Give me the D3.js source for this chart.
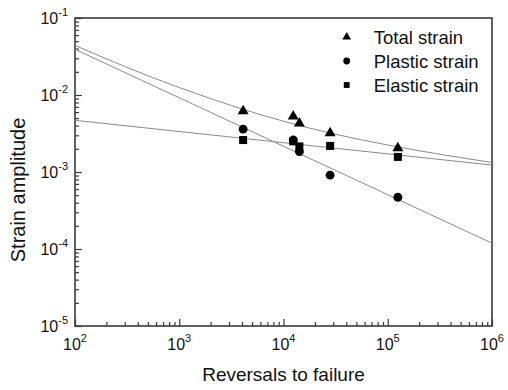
<!DOCTYPE html>
<html>
<head>
<meta charset="utf-8">
<script src="https://cdn.jsdelivr.net/npm/d3@7"></script>
<style>
  body { margin: 0; background: #fff; }
  svg { font-family: "Liberation Sans", Arial, sans-serif; }
</style>
</head>
<body>
<div id="chart"></div>
<script>
// measured points (reversals, strain amplitude)
const reversals = [4100, 12400, 14200, 28000, 125000];
const totalStrain = [0.0062, 0.0053, 0.0043, 0.0032, 0.00205];
const plasticStrain = [0.0036, 0.0026, 0.00184, 0.00091, 0.00047];
const elasticStrain = [0.0026, 0.0025, 0.00215, 0.00218, 0.00157];

// fitted lines
const elasticFitN = [100, 1e6];
const elasticFitS = [0.00469, 0.00123];
const plasticFitN = [100, 1e6];
const plasticFitS = [0.0392, 0.000119];
const totalFitN = [100, 316, 1000, 3162, 10000, 31623, 100000, 316228, 1e6];
const totalFitS = [0.0441, 0.0228, 0.0125, 0.0073, 0.00456, 0.00309, 0.00224, 0.0017, 0.00133];

const xTickExps = [2, 3, 4, 5, 6];
const yTickExps = [-5, -4, -3, -2, -1];
const legendLabels = ["Total strain", "Plastic strain", "Elastic strain"];

// set the dimensions and margins of the graph
const margin = {top: 18, right: 16, bottom: 64, left: 75},
    width = 508 - margin.left - margin.right,
    height = 390 - margin.top - margin.bottom;

const svg = d3.select("#chart")
    .append("svg")
        .attr("width", 508)
        .attr("height", 390)
    .append("g")
        .attr("transform", `translate(${margin.left}, ${margin.top})`);

const x = d3.scaleLog().domain([1e2, 1e6]).range([0, width]);
const y = d3.scaleLog().domain([1e-5, 1e-1]).range([height, 0]);

// minor tick values
const xMinor = [], yMinor = [];
for (let e = 2; e < 6; e++) for (let m = 2; m < 10; m++) xMinor.push(m * Math.pow(10, e));
for (let e = -5; e < -1; e++) for (let m = 2; m < 10; m++) yMinor.push(m * Math.pow(10, e));

const axisColor = "#3a3a3a";

function styleAxis(g) {
    g.select(".domain").remove();
    g.selectAll(".tick line").attr("stroke", axisColor).attr("stroke-width", 1.2);
}

// x axis ticks (inward)
svg.append("g")
    .attr("transform", `translate(0, ${height})`)
    .call(d3.axisBottom(x).tickValues(xMinor).tickSize(-4).tickFormat(""))
    .call(styleAxis);
svg.append("g")
    .attr("transform", `translate(0, ${height})`)
    .call(d3.axisBottom(x).tickValues(xTickExps.map(e => Math.pow(10, e))).tickSize(-7).tickFormat(""))
    .call(styleAxis);

// y axis ticks (inward)
svg.append("g")
    .call(d3.axisLeft(y).tickValues(yMinor).tickSize(-4).tickFormat(""))
    .call(styleAxis);
svg.append("g")
    .call(d3.axisLeft(y).tickValues(yTickExps.map(e => Math.pow(10, e))).tickSize(-7).tickFormat(""))
    .call(styleAxis);

// frame
svg.append("rect")
    .attr("width", width)
    .attr("height", height)
    .attr("fill", "none")
    .attr("stroke", axisColor)
    .attr("stroke-width", 1.6);

// tick labels as 10^n
function powLabel(sel, exp) {
    sel.append("tspan").text("10");
    sel.append("tspan")
        .attr("font-size", 11)
        .attr("dy", -8)
        .text(exp);
}

xTickExps.forEach(e => {
    svg.append("text")
        .attr("x", x(Math.pow(10, e)))
        .attr("y", height + 24)
        .attr("text-anchor", "middle")
        .attr("font-size", 16)
        .attr("fill", "#111")
        .call(powLabel, e);
});

yTickExps.forEach(e => {
    svg.append("text")
        .attr("x", -7)
        .attr("y", y(Math.pow(10, e)) + 6)
        .attr("text-anchor", "end")
        .attr("font-size", 16)
        .attr("fill", "#111")
        .call(powLabel, e);
});

// axis titles
svg.append("text")
    .attr("x", width / 2)
    .attr("y", height + 55)
    .attr("text-anchor", "middle")
    .attr("font-size", 19)
    .attr("fill", "#111")
    .text("Reversals to failure");

svg.append("text")
    .attr("transform", "rotate(-90)")
    .attr("x", -(190 - margin.top))
    .attr("y", -margin.left + 25)
    .attr("text-anchor", "middle")
    .attr("font-size", 20)
    .attr("fill", "#111")
    .text("Strain amplitude");

// fit lines
const line = d3.line()
    .x(d => x(d[0]))
    .y(d => y(d[1]));

const fits = [
    d3.zip(elasticFitN, elasticFitS),
    d3.zip(plasticFitN, plasticFitS)
];
fits.forEach(f => {
    svg.append("path")
        .datum(f)
        .attr("fill", "none")
        .attr("stroke", "#8a8a8a")
        .attr("stroke-width", 1)
        .attr("d", line);
});
svg.append("path")
    .datum(d3.zip(totalFitN, totalFitS))
    .attr("fill", "none")
    .attr("stroke", "#8a8a8a")
    .attr("stroke-width", 1)
    .attr("d", line.curve(d3.curveNatural));

// markers
const triangle = d3.symbol().type(d3.symbolTriangle);
const circle = d3.symbol().type(d3.symbolCircle);
const square = d3.symbol().type(d3.symbolSquare);

svg.append("g").selectAll("path")
    .data(d3.zip(reversals, totalStrain))
    .enter().append("path")
    .attr("d", triangle.size(52))
    .attr("transform", d => `translate(${x(d[0])}, ${y(d[1])})`)
    .attr("fill", "#000");

svg.append("g").selectAll("path")
    .data(d3.zip(reversals, plasticStrain))
    .enter().append("path")
    .attr("d", circle.size(62))
    .attr("transform", d => `translate(${x(d[0])}, ${y(d[1])})`)
    .attr("fill", "#000");

svg.append("g").selectAll("path")
    .data(d3.zip(reversals, elasticStrain))
    .enter().append("path")
    .attr("d", square.size(64))
    .attr("transform", d => `translate(${x(d[0])}, ${y(d[1])})`)
    .attr("fill", "#000");

// legend
const legend = svg.append("g")
    .attr("transform", `translate(${346.7 - margin.left}, ${37 - margin.top})`);
const legendSymbols = [triangle.size(34)(), circle.size(36)(), square.size(34)()];
legendLabels.forEach((label, i) => {
    const row = legend.append("g").attr("transform", `translate(0, ${i * 24})`);
    row.append("path")
        .attr("d", legendSymbols[i])
        .attr("fill", "#000");
    row.append("text")
        .attr("x", 27)
        .attr("y", 7)
        .attr("font-size", 18.5)
        .attr("fill", "#111")
        .text(label);
});
</script>
</body>
</html>
